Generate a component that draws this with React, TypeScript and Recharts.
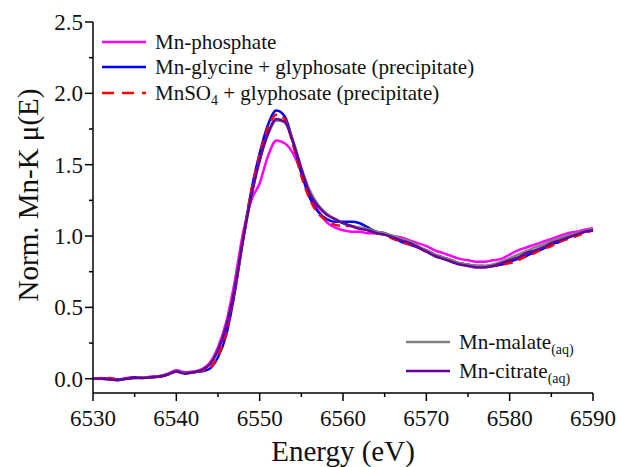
import React from "react";
import { Label, Line, LineChart, XAxis, YAxis } from "recharts";

// energy grid (eV)
const ENERGY = [
  6530, 6531, 6532, 6533, 6534, 6535, 6536, 6537, 6538, 6539, 6540, 6541, 6542, 6543, 6544, 6545,
  6546, 6547, 6548, 6549, 6550, 6551, 6552, 6553, 6554, 6555, 6556, 6557, 6558, 6559, 6560, 6561,
  6562, 6563, 6564, 6565, 6566, 6567, 6568, 6569, 6570, 6571, 6572, 6573, 6574, 6575, 6576, 6577,
  6578, 6579, 6580, 6581, 6582, 6583, 6584, 6585, 6586, 6587, 6588, 6589, 6590,
];

const PHOSPHATE = [
  0.0, 0.005, 0.0, -0.005, 0.005, 0.01, 0.01, 0.015, 0.02, 0.035, 0.06, 0.045, 0.05, 0.065, 0.11, 0.22,
  0.4, 0.68, 1.02, 1.25, 1.37, 1.56, 1.67, 1.65, 1.58, 1.45, 1.3, 1.18, 1.1, 1.06, 1.04, 1.03,
  1.03, 1.02, 1.02, 1.01, 1.0, 0.99, 0.97, 0.95, 0.93, 0.9, 0.88, 0.86, 0.84, 0.83, 0.82, 0.82,
  0.83, 0.84, 0.87, 0.9, 0.92, 0.94, 0.96, 0.98, 1.0, 1.02, 1.03, 1.045, 1.055,
];

const GLYCINE = [
  0.0, 0.0, 0.0, -0.005, 0.0, 0.01, 0.005, 0.01, 0.015, 0.03, 0.05, 0.04, 0.045, 0.05, 0.07, 0.15,
  0.31, 0.6, 0.97, 1.32, 1.58, 1.78, 1.88, 1.84, 1.66, 1.44, 1.27, 1.17, 1.12, 1.1, 1.1, 1.1,
  1.09, 1.06, 1.03, 1.02, 0.99, 0.96, 0.94, 0.92, 0.9, 0.87, 0.85, 0.83, 0.81, 0.8, 0.79, 0.79,
  0.79, 0.8, 0.82, 0.84, 0.86, 0.89, 0.91, 0.94, 0.96, 0.99, 1.01, 1.03, 1.04,
];

const SULFATE = [
  0.0, 0.0, 0.005, -0.005, 0.0, 0.005, 0.01, 0.01, 0.015, 0.03, 0.05, 0.04, 0.045, 0.055, 0.075, 0.16,
  0.33, 0.62, 0.98, 1.32, 1.57, 1.76, 1.85, 1.82, 1.64, 1.42, 1.26, 1.16, 1.11, 1.08, 1.07, 1.07,
  1.06, 1.04, 1.02, 1.01, 0.98, 0.96, 0.94, 0.92, 0.89, 0.87, 0.85, 0.83, 0.81, 0.8, 0.79, 0.79,
  0.79, 0.8, 0.81, 0.83, 0.86, 0.88, 0.91, 0.93, 0.96, 0.98, 1.0, 1.02, 1.04,
];

const MALATE = [
  0.0, 0.0, -0.005, -0.01, 0.0, 0.005, 0.01, 0.01, 0.02, 0.03, 0.05, 0.04, 0.045, 0.06, 0.1, 0.2,
  0.37, 0.63, 0.97, 1.28, 1.53, 1.71, 1.81, 1.8, 1.67, 1.48, 1.32, 1.22, 1.16, 1.12, 1.09, 1.07,
  1.06, 1.05, 1.03, 1.02, 1.0, 0.98, 0.96, 0.93, 0.9, 0.87, 0.85, 0.83, 0.81, 0.8, 0.79, 0.79,
  0.8, 0.82, 0.845, 0.87, 0.895, 0.92, 0.94, 0.965, 0.985, 1.005, 1.02, 1.035, 1.05,
];

const CITRATE = [
  0.0, 0.0, -0.005, -0.01, 0.0, 0.005, 0.005, 0.01, 0.015, 0.03, 0.05, 0.035, 0.045, 0.06, 0.1, 0.2,
  0.37, 0.63, 0.97, 1.28, 1.53, 1.72, 1.82, 1.8, 1.66, 1.47, 1.3, 1.21, 1.15, 1.12, 1.09, 1.07,
  1.05, 1.04, 1.02, 1.01, 0.99, 0.97, 0.95, 0.92, 0.89, 0.86, 0.84, 0.82, 0.8, 0.79, 0.78, 0.78,
  0.79, 0.81, 0.83, 0.85, 0.88, 0.9, 0.92, 0.95, 0.97, 0.99, 1.01, 1.03, 1.04,
];

const X_TICKS = [6530, 6535, 6540, 6545, 6550, 6555, 6560, 6565, 6570, 6575, 6580, 6585, 6590];
const Y_TICKS = [0, 0.25, 0.5, 0.75, 1, 1.25, 1.5, 1.75, 2, 2.25, 2.5];

const FONT = "'Liberation Serif', 'Times New Roman', serif";
const INK = "#000";

const data = ENERGY.map((e, i) => ({
  e,
  phosphate: PHOSPHATE[i],
  glycine: GLYCINE[i],
  sulfate: SULFATE[i],
  malate: MALATE[i],
  citrate: CITRATE[i],
}));

function XTick({ x, y, payload }: any) {
  const major = payload.value % 10 === 0;
  return (
    <g>
      <line x1={x} x2={x} y1={y} y2={y + (major ? 8 : 4)} stroke={INK} strokeWidth={1.5} />
      {major && (
        <text x={x} y={y + 33} textAnchor="middle" style={{ fontFamily: FONT, fontSize: 23 }} fill="#111">
          {payload.value}
        </text>
      )}
    </g>
  );
}

function YTick({ x, y, payload }: any) {
  const major = Math.abs(payload.value * 2 - Math.round(payload.value * 2)) < 1e-6;
  return (
    <g>
      <line x1={x - (major ? 8 : 4)} x2={x} y1={y} y2={y} stroke={INK} strokeWidth={1.5} />
      {major && (
        <text x={x - 10} y={y + 8} textAnchor="end" style={{ fontFamily: FONT, fontSize: 23 }} fill="#111">
          {payload.value.toFixed(1)}
        </text>
      )}
    </g>
  );
}

function Key({ top, left, color, dash, children }: any) {
  return (
    <div style={{ position: "absolute", top: top - 14, left, height: 28, display: "flex", alignItems: "center", whiteSpace: "nowrap" }}>
      <svg width={44} height={6} style={{ marginRight: 9 }}>
        <line x1={0} x2={44} y1={3} y2={3} stroke={color} strokeWidth={2.5} strokeDasharray={dash} />
      </svg>
      <span style={{ fontFamily: FONT, fontSize: 21, color: "#111" }}>{children}</span>
    </div>
  );
}

const sub = { fontSize: 14, verticalAlign: "-5px", lineHeight: 0 } as const;

export default function App() {
  return (
    <div style={{ position: "absolute", left: 0, top: 0, width: 617, height: 467, background: "#fff", fontFamily: FONT }}>
      <LineChart width={617} height={467} data={data} margin={{ top: 22, right: 24, bottom: 0, left: 0 }}>
        <XAxis
          dataKey="e"
          type="number"
          domain={[6530, 6590]}
          ticks={X_TICKS}
          interval={0}
          height={74}
          tickSize={0}
          tickMargin={0}
          tickLine={false}
          axisLine={{ stroke: INK, strokeWidth: 1.5 }}
          tick={<XTick />}
        >
          <Label
            content={() => (
              <text x={343} y={461} textAnchor="middle" style={{ fontFamily: FONT, fontSize: 29 }} fill="#111">
                Energy (eV)
              </text>
            )}
          />
        </XAxis>
        <XAxis xAxisId="top" orientation="top" dataKey="e" type="number" domain={[6530, 6590]} height={0} tick={false} tickLine={false} axisLine={{ stroke: INK, strokeWidth: 1.5 }} />
        <YAxis
          domain={[-0.1, 2.5]}
          ticks={Y_TICKS}
          interval={0}
          allowDataOverflow
          width={93}
          tickSize={0}
          tickMargin={0}
          tickLine={false}
          axisLine={{ stroke: INK, strokeWidth: 1.5 }}
          tick={<YTick />}
        >
          <Label
            content={() => (
              <text x={28} y={195} transform="rotate(-90 28 195)" textAnchor="middle" dominantBaseline="central" style={{ fontFamily: FONT, fontSize: 29 }} fill="#111">
                Norm. Mn-K μ(E)
              </text>
            )}
          />
        </YAxis>
        <YAxis yAxisId="right" orientation="right" domain={[-0.1, 2.5]} width={0} tick={false} tickLine={false} axisLine={{ stroke: INK, strokeWidth: 1.5 }} />
        <Line type="monotone" dataKey="phosphate" stroke="#ff00ff" strokeWidth={2.5} dot={false} isAnimationActive={false} />
        <Line type="monotone" dataKey="glycine" stroke="#0000ff" strokeWidth={2.5} dot={false} isAnimationActive={false} />
        <Line type="monotone" dataKey="sulfate" stroke="#ff0000" strokeWidth={2.5} strokeDasharray="9 6" dot={false} isAnimationActive={false} />
        <Line type="monotone" dataKey="malate" stroke="#808080" strokeWidth={2.5} dot={false} isAnimationActive={false} />
        <Line type="monotone" dataKey="citrate" stroke="#660099" strokeWidth={2.5} dot={false} isAnimationActive={false} />
      </LineChart>
      <Key top={42} left={102} color="#ff00ff">Mn-phosphate</Key>
      <Key top={67} left={102} color="#0000ff">Mn-glycine + glyphosate (precipitate)</Key>
      <Key top={93} left={102} color="#ff0000" dash="12 8">
        MnSO<span style={sub}>4</span> + glyphosate (precipitate)
      </Key>
      <Key top={342} left={406} color="#808080">
        Mn-malate<span style={sub}>(aq)</span>
      </Key>
      <Key top={371} left={406} color="#660099">
        Mn-citrate<span style={sub}>(aq)</span>
      </Key>
    </div>
  );
}
